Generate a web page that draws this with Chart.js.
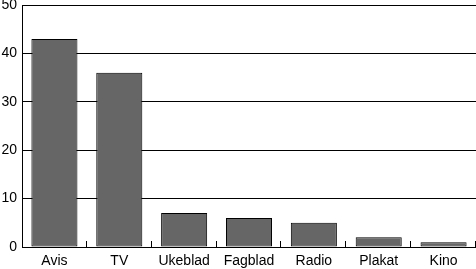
<!DOCTYPE html>
<html>
<head>
  <title>Medier</title>
  <script src="https://cdn.jsdelivr.net/npm/chart.js@4.4.0/dist/chart.umd.min.js"></script>
  <style>
    html, body { margin: 0; padding: 0; background: #fff; }
    #wrap { width: 476px; height: 269px; }
  </style>
</head>
<body>
  <div id="wrap"><canvas id="barChart" width="476" height="269"></canvas></div>

  <script>
    const categories = ['Avis', 'TV', 'Ukeblad', 'Fagblad', 'Radio', 'Plakat', 'Kino'];
    const values = [43, 36, 7, 6, 5, 2, 1];
    const yTicks = [0, 10, 20, 30, 40, 50];

    // small upward tick marks between categories on the x axis
    const categoryTicks = {
      id: 'categoryTicks',
      afterDatasetsDraw(chart) {
        const x = chart.scales.x, y = chart.scales.y;
        const ctx = chart.ctx;
        const base = y.getPixelForValue(0);
        ctx.save();
        ctx.strokeStyle = '#000';
        ctx.lineWidth = 1;
        for (let i = 0; i < categories.length; i++) {
          const px = Math.round(x.getPixelForValue(i + 0.5)) - 0.5;
          ctx.beginPath();
          ctx.moveTo(px, base);
          ctx.lineTo(px, base - 6);
          ctx.stroke();
        }
        ctx.restore();
      }
    };

    Chart.defaults.font.family = '"Liberation Sans", Arial, sans-serif';
    Chart.defaults.font.size = 14;
    Chart.defaults.color = '#000';

    new Chart(document.getElementById('barChart').getContext('2d'), {
      type: 'bar',
      data: {
        labels: categories,
        datasets: [{
          data: values,
          backgroundColor: '#666666',
          borderColor: '#000',
          borderWidth: 1,
          borderSkipped: false,
          categoryPercentage: 1,
          barPercentage: 0.71
        }]
      },
      options: {
        responsive: false,
        animation: false,
        layout: { padding: { top: 5, right: 0, left: 0, bottom: 0 } },
        plugins: { legend: { display: false }, tooltip: { enabled: false } },
        scales: {
          x: {
            grid: { display: false, drawTicks: false },
            border: { display: true, color: '#000', width: 1 },
            ticks: { padding: 6, maxRotation: 0 },
            afterFit(scale) {
              scale.height = 22;
              scale.paddingLeft = 0;
              scale.paddingRight = 0;
            }
          },
          y: {
            min: 0,
            max: 50,
            afterBuildTicks(scale) { scale.ticks = yTicks.map(v => ({ value: v })); },
            grid: { color: '#000', lineWidth: 1, drawTicks: false },
            border: { display: true, color: '#000', width: 1 },
            ticks: { padding: 5 },
            afterFit(scale) {
              scale.width = 22;
              scale.paddingTop = 0;
              scale.paddingBottom = 0;
            }
          }
        }
      },
      plugins: [categoryTicks]
    });
  </script>
</body>
</html>
